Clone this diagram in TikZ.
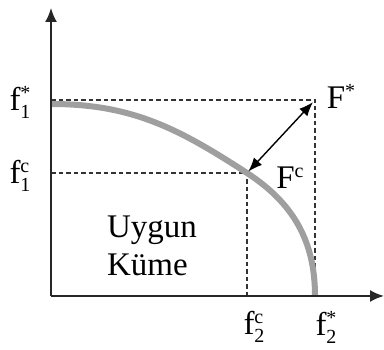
\documentclass[tikz,border=0pt]{standalone}
\usepackage{fontspec}
\setmainfont{Liberation Serif}
\usetikzlibrary{arrows.meta}
\newcommand{\scr}{\fontsize{20}{20}\selectfont}
\newcommand{\fsub}[2]{f\rlap{\raisebox{11pt}{\scr #2}}\raisebox{-8pt}{\scr #1}}
\newcommand{\Fsup}[1]{F\raisebox{11pt}{\scr #1}}
\begin{document}
\begin{tikzpicture}[x=1pt,y=1pt,
  axis/.style={black!85, line width=2pt, -{Latex[length=14pt,width=12pt]}},
  guide/.style={black!80, line width=1.3pt, dash pattern=on 4.5pt off 3pt},
  front/.style={gray!75, line width=6pt},
  lab/.style={font=\fontsize{33}{38}\selectfont, inner sep=0pt}]
\useasboundingbox (0,0) rectangle (384,350);

\coordinate (O) at (51,54);
\coordinate (ytop) at (51,342);
\coordinate (xend) at (384,54);
\coordinate (Fs) at (315,250);
\coordinate (Fc) at (247,177);
\coordinate (f1s) at (51,250);
\coordinate (f1c) at (51,177);
\coordinate (f2c) at (247,54);
\coordinate (f2s) at (315,54);

\draw[guide] (f1s) -- (Fs) -- (f2s);
\draw[guide] (f1c) -- (Fc) -- (f2c);

\draw[front] (51,246) to[out=0,in=147] (Fc) to[out=-33,in=90] (f2s);

\draw[axis] (O) -- (ytop);
\draw[axis] (O) -- (xend);

\draw[black, line width=1.4pt, {Latex[length=14pt,width=11pt]}-{Latex[length=14pt,width=11pt]}, shorten <=2pt, shorten >=3pt] (Fc) -- (Fs);

\node[lab] (l1s) at (20,248) {\fsub{1}{*}};
\node[lab] (l1c) at (20,174) {\fsub{1}{c}};
\node[lab] (l2c) at (254,23) {\fsub{2}{c}};
\node[lab] (l2s) at (326,23) {\fsub{2}{*}};
\node[lab] (lFs) at (341,254) {\Fsup{*}};
\node[lab] (lFc) at (290,172) {\Fsup{c}};
\node[lab, align=left] (set) at (152,104) {Uygun\\Küme};
\end{tikzpicture}
\end{document}
